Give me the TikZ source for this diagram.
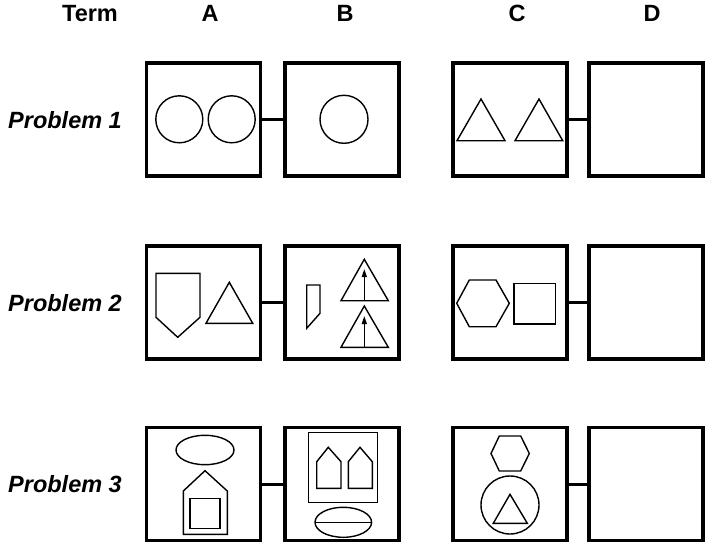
\documentclass[tikz,border=0pt]{standalone}
\usepackage{fontspec}
\setmainfont{Liberation Sans}
\usetikzlibrary{arrows.meta}

\begin{document}
\begin{tikzpicture}[x=1pt, y=-1pt, every node/.style={font=\fontsize{23.5}{27}\selectfont\bfseries, inner sep=0pt}, frame/.style={draw, line width=3.4pt, minimum width=114pt, minimum height=113pt}, link/.style={line width=3pt}, fig/.style={line width=1.4pt, line join=miter}, up/.style={line width=1.4pt, -{Triangle[length=8pt,width=5pt]}}]
	\useasboundingbox (0,0) rectangle (713,549);
	% column heads
	\node[anchor=base] (term) at (90,21) {Term};
	\foreach \c/\x in {A/210, B/345, C/517, D/652} {\node[anchor=base] (h\c) at (\x,21) {\c};}
	% problem rows: four boxes, A--B and C--D joined
	\foreach \r/\y in {1/119.5, 2/302.5, 3/484} {
		\node[anchor=base, font=\fontsize{23.5}{27}\selectfont\bfseries\itshape] (p\r) at (65,\y+8.5) {Problem \r};
		\foreach \c/\x in {a/203.5, b/342, c/510, d/646} {\node[frame] (\c\r) at (\x,\y) {};}
		\draw[link] (a\r) -- (b\r);
		\draw[link] (c\r) -- (d\r);
	}
	% problem 1
	\draw[fig] (179.3,119.3) circle (23.5pt) (231.7,119.3) circle (23.5pt);
	\draw[fig] (344,119.3) circle (24pt);
	\draw[fig] (457,140.7) -- (481,99) -- (505,140.7) -- cycle;
	\draw[fig] (515,140.7) -- (539,99) -- (562.7,140.7) -- cycle;
	% problem 2
	\draw[fig] (156,273.3) -- (200,273.3) -- (200,317.3) -- (177.7,337.3) -- (156,317.3) -- cycle;
	\draw[fig] (206,323.3) -- (229.3,282.3) -- (252.7,323.3) -- cycle;
	\draw[fig] (306.7,285) -- (320,285) -- (320,313.3) -- (306.7,328.3) -- cycle;
	\draw[fig] (341,300.7) -- (364.3,259.3) -- (388.3,300.7) -- cycle;
	\draw[up] (364.3,300.7) -- (364.3,269);
	\draw[fig] (341,347.3) -- (364.3,306) -- (388.3,347.3) -- cycle;
	\draw[up] (364.3,347.3) -- (364.3,316);
	\draw[fig] (456.7,303.3) -- (469.3,280) -- (496,280) -- (509.3,303.3) -- (496,326.7) -- (469.3,326.7) -- cycle;
	\draw[fig] (514,283.3) rectangle (555.3,324);
	% problem 3
	\draw[fig] (205,450) ellipse [x radius=29pt, y radius=14.7pt];
	\draw[fig] (183.3,534.3) -- (183.3,491) -- (205,470.7) -- (227.3,491) -- (227.3,534.3) -- cycle;
	\draw[fig] (190,498.3) rectangle (220,528.3);
	\draw[fig] (308.3,432.7) rectangle (377.7,502.3);
	\draw[fig] (316.7,488.3) -- (316.7,461.7) -- (328.3,447.3) -- (341,461.7) -- (341,488.3) -- cycle;
	\draw[fig] (348.3,488.3) -- (348.3,461.7) -- (360,447.3) -- (372.3,461.7) -- (372.3,488.3) -- cycle;
	\draw[fig] (343.3,522.3) ellipse [x radius=28.3pt, y radius=15pt];
	\draw[fig] (315,522.3) -- (371.6,522.3);
	\draw[fig] (491,453.5) -- (499.3,436) -- (520.7,436) -- (529.3,453.5) -- (520.7,471) -- (499.3,471) -- cycle;
	\draw[fig] (510,505) circle (29pt);
	\draw[fig] (493.3,523.3) -- (510,494.3) -- (527.3,523.3) -- cycle;
\end{tikzpicture}
\end{document}
